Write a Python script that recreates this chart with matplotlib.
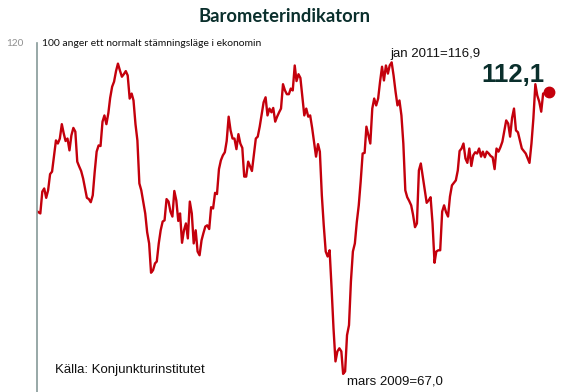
import matplotlib
matplotlib.use("Agg")
import matplotlib.pyplot as plt
import pandas as pd
import numpy as np

# Monthly Barometerindikatorn, Jan 1996 - Jan 2018
barometer = [
    93.1, 92.9, 92.7, 96.2, 96.7, 95.2, 96.4, 99.0, 99.4, 101.9, 104.4, 103.9,       # 1996
    104.7, 107.0, 105.6, 104.3, 104.7, 102.8, 105.2, 106.4, 105.8, 101.0, 100.2, 99.5,  # 1997
    98.3, 96.7, 95.2, 95.0, 94.5, 95.6, 99.3, 102.6, 103.6, 103.5, 107.4, 108.4,      # 1998
    107.0, 108.8, 111.2, 113.0, 113.8, 115.5, 116.7, 115.6, 114.6, 115.0, 115.5, 114.8,  # 1999
    111.1, 111.9, 110.8, 107.0, 104.4, 97.5, 96.4, 94.5, 92.7, 89.7, 87.9, 83.2,      # 2000
    83.6, 84.7, 85.0, 87.9, 90.0, 91.4, 91.6, 95.0, 94.6, 93.0, 92.2, 96.3,           # 2001
    94.8, 91.5, 92.7, 88.0, 90.0, 91.1, 88.7, 94.6, 92.7, 87.9, 90.0, 86.6,           # 2002
    86.0, 88.4, 89.5, 90.6, 90.8, 90.2, 93.7, 93.5, 96.0, 95.8, 99.8, 101.2,          # 2003
    102.0, 102.5, 104.3, 108.2, 106.0, 104.7, 104.7, 103.0, 105.4, 103.9, 103.2, 98.6,  # 2004
    98.6, 101.0, 100.3, 99.5, 102.0, 104.7, 105.0, 106.6, 108.6, 110.5, 111.3, 108.4,   # 2005
    109.5, 108.9, 109.6, 107.4, 108.2, 108.9, 109.5, 113.4, 112.4, 111.8, 111.8, 112.7,  # 2006
    112.4, 116.4, 113.9, 115.0, 114.4, 111.3, 108.4, 109.5, 108.2, 108.4, 106.4, 104.2,  # 2007
    101.8, 103.8, 102.6, 95.6, 90.8, 86.6, 85.8, 86.8, 80.7, 74.3, 69.0, 70.6,        # 2008
    71.1, 70.6, 67.0, 67.4, 73.2, 74.8, 81.8, 86.6, 87.9, 91.3, 94.0, 97.8,           # 2009
    102.3, 102.4, 106.6, 105.2, 103.9, 109.5, 111.1, 110.0, 111.1, 113.8, 116.2, 114.0,  # 2010
    116.4, 115.1, 116.4, 116.9, 114.8, 112.2, 110.0, 110.8, 108.4, 103.9, 96.4, 95.3,   # 2011
    94.7, 94.0, 92.5, 90.5, 91.1, 99.6, 100.7, 98.6, 96.4, 94.4, 94.8, 95.3,          # 2012
    91.1, 84.8, 86.6, 86.8, 86.8, 93.0, 94.0, 92.9, 92.2, 95.4, 97.2, 97.6,           # 2013
    98.0, 99.6, 102.7, 103.1, 103.9, 101.5, 100.8, 103.1, 100.3, 102.0, 102.5, 102.3,  # 2014
    103.1, 101.8, 102.6, 101.7, 102.6, 102.3, 101.9, 101.7, 99.8, 103.1, 102.6, 103.3,  # 2015
    104.2, 106.0, 107.6, 107.1, 105.0, 108.0, 109.5, 106.0, 105.7, 104.4, 103.1, 102.7,  # 2016
    102.3, 101.5, 100.8, 103.9, 107.9, 113.4, 111.6, 110.6, 109.0, 111.9, 112.0, 111.9,  # 2017
    112.1,                                                                            # 2018
]
months = pd.date_range("1996-01-01", periods=len(barometer), freq="MS")

title = "Barometerindikatorn"
subtitle = "100 anger ett normalt stämningsläge i ekonomin"
source = "Källa: Konjunkturinstitutet"
max_label = "jan 2011=116,9"
min_label = "mars 2009=67,0"
last_label = "112,1"
ytick_vals = [120]
ytick_labels = ["120"]

line_color = "#c4000c"
dark = "#0a2f2c"

W, H = 576, 392
fig = plt.figure(figsize=(W / 100, H / 100), dpi=100)
ax = fig.add_axes([36.5 / W, 0, 512.5 / W, 349 / H])

ax.plot(months, barometer, color=line_color, lw=1.7, solid_joinstyle="round")
ax.plot(months[-1], barometer[-1], "o", color=line_color, ms=7.5, clip_on=False)

ax.set_xlim(months[0], months[-1])
ax.set_ylim(64.1, 120)
ax.set_yticks(ytick_vals)
ax.set_yticklabels(ytick_labels)
ax.tick_params(axis="y", length=0, pad=9, labelsize=7.2, labelcolor="#8f8f8f")
ax.tick_params(axis="x", bottom=False, labelbottom=False)
for s in ["top", "right", "bottom"]:
    ax.spines[s].set_visible(False)
ax.spines["left"].set_color("#869a98")
ax.spines["left"].set_linewidth(1.2)
for lab in ax.get_yticklabels():
    lab.set_family("Lato")

# annotations
vals = np.array(barometer)
imax = int(vals.argmax())
imin = int(vals.argmin())
ax.annotate(max_label, xy=(months[imax], vals[imax]), xytext=(-1, 2),
            textcoords="offset points", ha="left", va="bottom",
            fontsize=9.5, family="Liberation Sans", color="#111111")
ax.annotate(min_label, xy=(months[imin], vals[imin]), xytext=(3, -1),
            textcoords="offset points", ha="left", va="top",
            fontsize=9.5, family="Liberation Sans", color="#111111")
ax.annotate(last_label, xy=(months[-1], vals[-1]), xytext=(-3, 4),
            textcoords="offset points", ha="right", va="bottom",
            fontsize=18.5, fontweight="bold", family="Liberation Sans", color=dark)

fig.text(284 / W, 1 - 16 / H, title, ha="center", va="center",
         fontsize=13.2, fontweight="bold", family="Lato", color=dark)
fig.text(42 / W, 1 - 43 / H, subtitle, ha="left", va="center",
         fontsize=7.5, family="Lato", color="#111111")
fig.text(55 / W, 1 - 370 / H, source, ha="left", va="center",
         fontsize=9.5, family="Liberation Sans", color="#111111")

fig.savefig("out.png", dpi=100)
